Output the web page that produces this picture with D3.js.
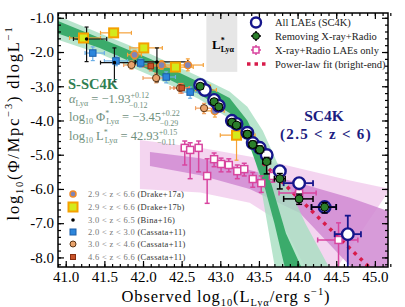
<!DOCTYPE html>
<html lang="en">
<head>
<meta charset="UTF-8"/>
<title>SC4K Lya luminosity function</title>
<script src="https://d3js.org/d3.v7.min.js"></script>
<style>
	body { margin: 0; background: #fff; }
	text { font-family: "Liberation Serif", "DejaVu Serif", serif; }
	.frame { fill: none; stroke: #000; stroke-width: 1.5px; }
	.axis path { display: none; }
	.axis line { stroke: #000; stroke-width: 1.2px; }
	.axis text { font-size: 15px; fill: #000; }
	.lbl { font-size: 16.5px; fill: #000; }
</style>
</head>
<body>
<div id="chart"></div>
<script>
var w = 405, h = 307;
var padL = 58, padR = 388, padT = 13, padB = 267;

// tick values
var xMajor = [41.0, 41.5, 42.0, 42.5, 43.0, 43.5, 44.0, 44.5, 45.0];
var yMajor = [-1, -2, -3, -4, -5, -6, -7, -8];

// band edges: [logL, logPhi]
var greenLightUp = [[40.85,-0.9],[41.44,-1.45],[42.09,-2.05],[42.73,-2.72],[43.12,-3.15],[43.35,-3.6],[43.55,-4.3],
	[43.75,-5.3],[43.9,-6.0],[44.1,-7.0],[44.42,-8.34],[44.55,-8.9]];
var greenLightLo = [[40.85,-1.6],[41.44,-2.05],[42.09,-2.68],[42.73,-3.38],[43.12,-3.95],[43.35,-4.6],[43.45,-5.1],
	[43.53,-6.0],[43.71,-8.34],[43.74,-8.9]];
var greenDarkUp = [[40.85,-1.05],[41.44,-1.59],[42.09,-2.2],[42.73,-2.88],[43.12,-3.34],[43.35,-4.0],[43.52,-4.8],
	[43.68,-6.0],[43.85,-7.3],[44.06,-8.34],[44.12,-8.9]];
var greenDarkLo = [[40.85,-1.42],[41.44,-1.88],[42.09,-2.53],[42.73,-3.23],[43.12,-3.78],[43.3,-4.4],[43.4,-4.86],
	[43.58,-6.0],[43.7,-7.0],[43.84,-8.34],[43.87,-8.9]];
var purpleLightUp = [[41.96,-4.57],[42.74,-4.8],[43.38,-5.05],[44.03,-5.4],[44.68,-5.75],[45.2,-6.0]];
var purpleLightLo = [[41.96,-6.0],[42.74,-6.1],[43.38,-6.4],[43.8,-7.0],[44.1,-8.3],[44.3,-9.0]];
var purpleDarkUp = [[42.09,-4.92],[42.74,-5.1],[43.38,-5.45],[44.03,-5.83],[44.68,-6.26],[45.2,-6.67]];
var purpleDarkLo = [[42.09,-5.33],[42.74,-5.6],[43.38,-6.0],[44.03,-6.7],[44.7,-8.3],[45.2,-9.5]];
var powerLaw = [[43.55,-5.24],[45.0,-8.45]];
var lstarBox = [42.82, 43.22, -2.58];

// points: [logL, logPhi, xlo, xhi, ylo, yhi]
var sc4kAll = [[42.74,-2.96,42.7,42.78,-3.02,-2.9],[42.80,-3.11,42.76,42.84,-3.17,-3.05],[42.92,-3.40,42.88,42.96,-3.46,-3.34],
	[42.98,-3.57,42.94,43.02,-3.63,-3.51],[43.15,-4.01,43.1,43.2,-4.08,-3.94],[43.21,-4.10,43.16,43.26,-4.17,-4.03],
	[43.35,-4.36,43.3,43.4,-4.44,-4.28],[43.42,-4.66,43.37,43.47,-4.74,-4.58],[43.51,-4.80,43.46,43.56,-4.88,-4.72],
	[43.60,-5.01,43.55,43.65,-5.1,-4.92],[43.77,-5.48,43.7,43.84,-5.6,-5.36],[44.02,-5.83,43.82,44.2,-5.95,-5.72],
	[44.35,-6.53,44.18,44.5,-6.68,-6.4],[44.65,-7.32,44.48,44.82,-8.4,-6.78]];
var sc4kNoAgn = [[42.74,-3.0,42.7,42.78,-3.07,-2.93],[42.92,-3.45,42.88,42.96,-3.52,-3.38],[42.98,-3.6,42.94,43.02,-3.67,-3.53],
	[43.15,-4.05,43.1,43.2,-4.13,-3.97],[43.21,-4.14,43.16,43.26,-4.22,-4.06],[43.35,-4.4,43.3,43.4,-4.5,-4.3],
	[43.42,-4.7,43.37,43.47,-4.8,-4.6],[43.51,-4.85,43.46,43.56,-4.96,-4.74],[43.60,-5.2,43.55,43.65,-5.56,-5.08],
	[43.77,-5.7,43.7,43.84,-6.0,-5.55],[44.02,-6.29,43.82,44.2,-6.45,-6.15],[44.35,-6.53,44.18,44.5,-6.7,-6.4]];
var agnOnly = [[42.54,-4.8,42.5,42.58,-5.3,-4.6],[42.61,-4.86,42.57,42.65,-5.7,-4.65],[42.72,-4.8,42.68,42.76,-5.5,-4.6],
	[42.83,-5.62,42.79,42.87,-6.42,-5.12],[42.92,-5.13,42.88,42.96,-5.35,-4.95],[43.01,-5.27,42.97,43.05,-5.5,-5.1],
	[43.11,-5.3,43.07,43.15,-5.5,-5.12],[43.22,-5.48,43.18,43.26,-5.7,-5.3],[43.31,-5.42,43.27,43.35,-5.62,-5.25],
	[43.42,-5.71,43.38,43.46,-5.95,-5.52],[43.53,-5.83,43.49,43.57,-6.1,-5.62],[43.68,-5.62,43.64,43.72,-5.8,-5.45],
	[44.02,-6.12,43.76,44.24,-6.35,-5.95],[44.53,-7.49,44.26,44.78,-8.4,-6.99]];

var drake17a = [[41.89,-2.08,41.8,41.98,-2.2,-1.95],[42.24,-2.38,42.12,42.36,-2.5,-2.25],[42.58,-2.38,42.45,42.78,-2.55,-2.2],
	[42.93,-3.72,42.78,43.05,-3.9,-3.55]];
var drake17b = [[41.23,-1.59,41.05,41.45,-1.68,-1.5],[41.62,-1.44,41.45,41.85,-1.52,-1.36],[42.01,-1.88,41.83,42.25,-1.96,-1.8],
	[42.42,-2.44,42.2,42.65,-2.53,-2.35],[42.81,-3.11,42.68,42.95,-3.2,-3.02],[43.21,-4.43,43.0,43.45,-5.16,-3.99]];
var bina16 = [[41.27,-1.62,41.1,41.53,-2.28,-1.27],[41.63,-2.31,41.45,41.9,-2.87,-1.88],[42.18,-2.29,41.9,42.58,-2.87,-1.88]];
var cassata1 = [[41.35,-2.03,41.25,41.5,-2.25,-1.85],[41.65,-2.26,41.5,41.8,-2.4,-2.12],[41.97,-2.32,41.85,42.1,-2.45,-2.2],
	[42.3,-2.73,42.2,42.42,-2.9,-2.58],[42.61,-3.17,42.5,42.72,-3.35,-3.02],[42.93,-3.49,42.85,43.0,-3.65,-3.35]];
var cassata2 = [[41.85,-2.38,41.75,41.95,-2.5,-2.26],[42.17,-2.76,42.0,42.3,-2.9,-2.62],[42.48,-3.05,42.35,42.6,-3.2,-2.92],
	[42.79,-3.64,42.68,42.9,-3.8,-3.5]];
var cassata3 = [[42.1,-2.41,42.0,42.2,-2.55,-2.28],[42.5,-3.05,42.4,42.6,-3.2,-2.92]];

var x = d3.scaleLinear().domain([40.9, 45.17]).range([padL, padR]);
var y = d3.scaleLinear().domain([-8.28, -0.86]).range([padB, padT]);

var svg = d3.select("#chart").append("svg").attr("width", w).attr("height", h);
svg.append("rect").attr("width", w).attr("height", h).attr("fill", "#fff");

svg.append("clipPath").attr("id", "clip").append("rect")
	.attr("x", padL).attr("y", padT).attr("width", padR - padL).attr("height", padB - padT);
var plot = svg.append("g").attr("clip-path", "url(#clip)");

// L* shaded box
plot.append("rect")
	.attr("x", x(lstarBox[0])).attr("y", padT)
	.attr("width", x(lstarBox[1]) - x(lstarBox[0])).attr("height", y(lstarBox[2]) - padT)
	.attr("fill", "#e6e6e6");

var edge = d3.line().x(function(d) { return x(d[0]); }).y(function(d) { return y(d[1]); });
function band(up, lo, fill, op) {
	plot.append("path").datum(up.concat(lo.slice().reverse()))
		.attr("d", function(d) { return edge(d) + "Z"; })
		.attr("fill", fill).attr("opacity", op);
}
band(purpleLightUp, purpleLightLo, "#f3d0ee", 0.9);
band(purpleDarkUp, purpleDarkLo, "#d08ad2", 0.85);
band(greenLightUp, greenLightLo, "#a6dfc0", 0.8);
band(greenDarkUp, greenDarkLo, "#2ea461", 0.9);

plot.append("path").datum(powerLaw).attr("d", edge)
	.attr("fill", "none").attr("stroke", "#d81b4a").attr("stroke-width", 3.5).attr("stroke-dasharray", "3.5,5");

function errBars(data, color, width, cap) {
	var g = plot.append("g").attr("stroke", color).attr("stroke-width", width).attr("fill", "none");
	data.forEach(function(d) {
		g.append("line").attr("x1", x(d[2])).attr("x2", x(d[3])).attr("y1", y(d[1])).attr("y2", y(d[1]));
		g.append("line").attr("x1", x(d[0])).attr("x2", x(d[0])).attr("y1", y(d[4])).attr("y2", y(d[5]));
		if (cap) {
			g.append("line").attr("x1", x(d[2])).attr("x2", x(d[2])).attr("y1", y(d[1]) - cap).attr("y2", y(d[1]) + cap);
			g.append("line").attr("x1", x(d[3])).attr("x2", x(d[3])).attr("y1", y(d[1]) - cap).attr("y2", y(d[1]) + cap);
			g.append("line").attr("x1", x(d[0]) - cap).attr("x2", x(d[0]) + cap).attr("y1", y(d[4])).attr("y2", y(d[4]));
			g.append("line").attr("x1", x(d[0]) - cap).attr("x2", x(d[0]) + cap).attr("y1", y(d[5])).attr("y2", y(d[5]));
		}
	});
}

function circles(data, r, fill, stroke, sw) {
	plot.append("g").selectAll("circle").data(data).enter().append("circle")
		.attr("cx", function(d) { return x(d[0]); }).attr("cy", function(d) { return y(d[1]); })
		.attr("r", r).attr("fill", fill).attr("stroke", stroke).attr("stroke-width", sw);
}
function squares(data, s, fill, stroke, sw) {
	plot.append("g").selectAll("rect").data(data).enter().append("rect")
		.attr("x", function(d) { return x(d[0]) - s / 2; }).attr("y", function(d) { return y(d[1]) - s / 2; })
		.attr("width", s).attr("height", s).attr("fill", fill).attr("stroke", stroke).attr("stroke-width", sw);
}

// literature points
errBars(drake17b, "#f5a23a", 1.2, 2);
errBars(drake17a, "#f5a23a", 1.2, 2);
errBars(cassata1, "#6aaee6", 1.2, 2);
errBars(cassata2, "#f0a060", 1.2, 2);
errBars(cassata3, "#f08050", 1.2, 2);
errBars(bina16, "#111", 1.2, 2);
squares(drake17b, 9, "#d4ea1c", "#f5a000", 2);
circles(drake17a, 3.6, "#7f84b8", "#ee8a2a", 1.5);
squares(cassata1, 6.5, "#2c86dc", "#1d5fa8", 1);
circles(cassata2, 3.6, "#e9a36c", "#5a3414", 1);
squares(cassata3, 5.5, "#c9542a", "#8a2e10", 1);
circles(bina16, 1.8, "#000", "#000", 0);

// SC4K
errBars(agnOnly, "#d8459f", 1.5, 2.5);
squares(agnOnly, 7, "#fff", "#d8459f", 1.5);
errBars(sc4kAll, "#16168c", 1.8, 3);
circles(sc4kAll, 5.8, "#fff", "#16168c", 2.4);
errBars(sc4kNoAgn, "#000", 1.5, 3);
circles(sc4kNoAgn, 4, "#2b7f2b", "#000", 1);

// axes
var xMinor = d3.range(40.9, 45.2, 0.1).map(function(v) { return Math.round(v * 10) / 10; });
var yMinor = d3.range(-8.2, -0.8, 0.2).map(function(v) { return Math.round(v * 10) / 10; });
var fmt = function(d) { return d.toFixed(1); };

svg.append("g").attr("class", "axis").attr("transform", "translate(0," + padB + ")")
	.call(d3.axisBottom(x).tickValues(xMinor).tickSize(-3).tickFormat(""));
svg.append("g").attr("class", "axis").attr("transform", "translate(0," + padB + ")")
	.call(d3.axisBottom(x).tickValues(xMajor).tickSize(-6).tickPadding(4.5).tickFormat(fmt));
svg.append("g").attr("class", "axis").attr("transform", "translate(0," + padT + ")")
	.call(d3.axisTop(x).tickValues(xMinor).tickSize(-3).tickFormat(""));
svg.append("g").attr("class", "axis").attr("transform", "translate(0," + padT + ")")
	.call(d3.axisTop(x).tickValues(xMajor).tickSize(-6).tickFormat(""));
svg.append("g").attr("class", "axis").attr("transform", "translate(" + padL + ",0)")
	.call(d3.axisLeft(y).tickValues(yMinor).tickSize(-3).tickFormat(""));
svg.append("g").attr("class", "axis").attr("transform", "translate(" + padL + ",0)")
	.call(d3.axisLeft(y).tickValues(yMajor).tickSize(-6).tickPadding(4).tickFormat(fmt));
svg.append("g").attr("class", "axis").attr("transform", "translate(" + padR + ",0)")
	.call(d3.axisRight(y).tickValues(yMinor).tickSize(-3).tickFormat(""));
svg.append("g").attr("class", "axis").attr("transform", "translate(" + padR + ",0)")
	.call(d3.axisRight(y).tickValues(yMajor).tickSize(-6).tickFormat(""));

svg.append("rect").attr("class", "frame").attr("x", padL).attr("y", padT)
	.attr("width", padR - padL).attr("height", padB - padT);

// axis labels
var xl = svg.append("text").attr("class", "lbl").attr("x", 226).attr("y", 302)
	.attr("text-anchor", "middle").attr("letter-spacing", 0.9);
xl.append("tspan").text("Observed log");
xl.append("tspan").attr("font-size", 10.5).attr("dy", 4).text("10");
xl.append("tspan").attr("dy", -4).text("(L");
xl.append("tspan").attr("font-size", 10.5).attr("dy", 4).text("Lyα");
xl.append("tspan").attr("dy", -4).text("/erg s");
xl.append("tspan").attr("font-size", 10.5).attr("dy", -7).text("−1");
xl.append("tspan").attr("dy", 7).text(")");

var yl = svg.append("text").attr("class", "lbl").attr("transform", "translate(19,123) rotate(-90)")
	.attr("text-anchor", "middle").attr("letter-spacing", 1.8);
yl.append("tspan").text("log");
yl.append("tspan").attr("font-size", 10.5).attr("dy", 4).text("10");
yl.append("tspan").attr("dy", -4).text("(Φ/Mpc");
yl.append("tspan").attr("font-size", 10.5).attr("dy", -7).text("−3");
yl.append("tspan").attr("dy", 7).text(") dlogL");
yl.append("tspan").attr("font-size", 10.5).attr("dy", -7).text("−1");

// L* label
var ls = svg.append("text").attr("x", 212).attr("y", 49).attr("font-size", 13).attr("font-weight", "bold");
ls.append("tspan").text("L");
ls.append("tspan").attr("font-size", 8).attr("dy", -6).text("*");
ls.append("tspan").attr("font-size", 8).attr("dx", -4).attr("dy", 9).text("Lyα");

// S-SC4K fit annotation
svg.append("text").attr("x", 68).attr("y", 89).attr("font-size", 14.5).attr("font-weight", "bold").attr("fill", "#2f7f52").text("S-SC4K");
function param(yy, parts) {
	var t = svg.append("text").attr("x", 69).attr("y", yy).attr("font-size", 12.5).attr("fill", "#6f8f7d");
	parts.forEach(function(p) {
		var s = t.append("tspan").text(p[0]);
		if (p[1]) s.attr("font-size", 8);
		if (p[2]) s.attr("dy", p[2]);
		if (p[3]) s.attr("dx", p[3]);
		if (p[4]) s.attr("font-style", "italic");
	});
}
param(103, [["α", 0, 0, 0, 1], ["Lyα", 1, 3], [" = −1.93", 0, -3], ["+0.12", 1, -5], ["−0.12", 1, 10, -20]]);
param(121, [["log"], ["10", 1, 3], [" Φ", 0, -3], ["*", 1, -5], ["Lyα", 1, 8, -3], [" = −3.45", 0, -3], ["+0.22", 1, -5], ["−0.29", 1, 10, -20]]);
param(140, [["log"], ["10", 1, 3], [" L", 0, -3], ["*", 1, -5], ["Lyα", 1, 8, -3], [" = 42.93", 0, -3], ["+0.15", 1, -5], ["−0.11", 1, 10, -20]]);

// SC4K annotation
svg.append("text").attr("x", 324).attr("y", 121).attr("text-anchor", "middle").attr("font-size", 15.5)
	.attr("font-weight", "bold").attr("fill", "#1c1c80").text("SC4K");
svg.append("text").attr("x", 326).attr("y", 139).attr("text-anchor", "middle").attr("font-size", 15)
	.attr("letter-spacing", 1.3).attr("font-weight", "bold").attr("fill", "#1c1c80").text("(2.5 < z < 6)");

// top-right legend
var legTop = [["All LAEs (SC4K)", 26], ["Removing X-ray+Radio", 39.5], ["X-ray+Radio LAEs only", 53.5], ["Power-law fit (bright-end)", 67.5]];
var lg = svg.append("g");
lg.append("circle").attr("cx", 256).attr("cy", legTop[0][1] - 3.5).attr("r", 5).attr("fill", "#fff").attr("stroke", "#16168c").attr("stroke-width", 2.4);
lg.append("line").attr("x1", 251).attr("x2", 261).attr("y1", legTop[1][1] - 3.5).attr("y2", legTop[1][1] - 3.5).attr("stroke", "#000").attr("stroke-width", 1.5);
lg.append("line").attr("x1", 256).attr("x2", 256).attr("y1", legTop[1][1] - 8.5).attr("y2", legTop[1][1] + 1.5).attr("stroke", "#000").attr("stroke-width", 1.5);
lg.append("circle").attr("cx", 256).attr("cy", legTop[1][1] - 3.5).attr("r", 3.5).attr("fill", "#2b7f2b").attr("stroke", "#000");
lg.append("line").attr("x1", 251).attr("x2", 261).attr("y1", legTop[2][1] - 3.5).attr("y2", legTop[2][1] - 3.5).attr("stroke", "#d8459f").attr("stroke-width", 1.5);
lg.append("line").attr("x1", 256).attr("x2", 256).attr("y1", legTop[2][1] - 8.5).attr("y2", legTop[2][1] + 1.5).attr("stroke", "#d8459f").attr("stroke-width", 1.5);
lg.append("rect").attr("x", 253).attr("y", legTop[2][1] - 6.5).attr("width", 6).attr("height", 6).attr("fill", "#fff").attr("stroke", "#d8459f").attr("stroke-width", 1.5);
lg.append("line").attr("x1", 247).attr("x2", 267).attr("y1", legTop[3][1] - 3.5).attr("y2", legTop[3][1] - 3.5)
	.attr("stroke", "#d81b4a").attr("stroke-width", 3.5).attr("stroke-dasharray", "3.5,4");
legTop.forEach(function(d) {
	lg.append("text").attr("x", 275).attr("y", d[1]).attr("font-size", 10.5).attr("fill", "#222").text(d[0]);
});

// bottom-left legend
var legBot = [["2.9 < z < 6.6", "(Drake+17a)"], ["2.9 < z < 6.6", "(Drake+17b)"], ["3.0 < z < 6.5", "(Bina+16)"],
	["2.0 < z < 3.0", "(Cassata+11)"], ["3.0 < z < 4.6", "(Cassata+11)"], ["4.6 < z < 6.6", "(Cassata+11)"]];
var legY = [194, 207, 220, 232, 244, 257];
var bl = svg.append("g");
bl.append("circle").attr("cx", 73).attr("cy", legY[0]).attr("r", 3).attr("fill", "#7f84b8").attr("stroke", "#ee8a2a").attr("stroke-width", 1.5);
bl.append("rect").attr("x", 68.5).attr("y", legY[1] - 4.5).attr("width", 9).attr("height", 9).attr("fill", "#d4ea1c").attr("stroke", "#f5a000").attr("stroke-width", 2);
bl.append("circle").attr("cx", 73).attr("cy", legY[2]).attr("r", 1.8).attr("fill", "#000");
bl.append("rect").attr("x", 70).attr("y", legY[3] - 3).attr("width", 6).attr("height", 6).attr("fill", "#2c86dc").attr("stroke", "#1d5fa8");
bl.append("circle").attr("cx", 73).attr("cy", legY[4]).attr("r", 3).attr("fill", "#e9a36c").attr("stroke", "#5a3414");
bl.append("rect").attr("x", 70.5).attr("y", legY[5] - 2.5).attr("width", 5).attr("height", 5).attr("fill", "#c9542a").attr("stroke", "#8a2e10");
legBot.forEach(function(d, i) {
	var t = bl.append("text").attr("x", 88).attr("y", legY[i] + 3).attr("font-size", 8.5).attr("letter-spacing", 0.3);
	t.append("tspan").attr("fill", "#777").text(d[0] + " ");
	t.append("tspan").attr("fill", "#333").text(d[1]);
});
</script>
</body>
</html>
